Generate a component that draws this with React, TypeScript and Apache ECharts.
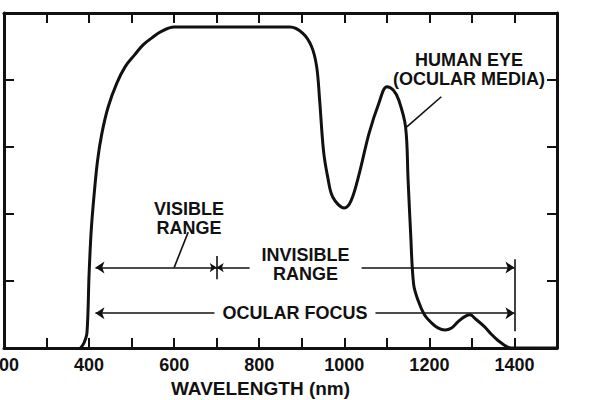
import React, { useEffect, useRef } from "react";
import * as echarts from "echarts";

// Wavelength (nm) and relative transmission (%) of the human eye (ocular media)
const wavelengths = [380, 388, 395, 400, 405, 412, 420, 430, 445, 465, 485, 507, 527, 547, 570, 600, 700, 800, 872, 902, 923, 935, 942, 951, 961, 973, 1000, 1016, 1035, 1058, 1081, 1100, 1115, 1128, 1144, 1150, 1156, 1163, 1174, 1188, 1205, 1220, 1237, 1252, 1267, 1282, 1295, 1310, 1330, 1345, 1360, 1384, 1400, 1500];
const transmission = [0, 1.5, 4.5, 22, 35, 46, 56, 64, 72, 79, 84, 87.5, 90.5, 92.5, 94.5, 95.8, 95.8, 95.8, 95.8, 94, 90, 84, 74, 59, 51, 45, 41.8, 44, 52, 64, 73, 78, 77, 74, 66, 50, 34, 19, 14, 10, 7.5, 6, 5.4, 6, 7.8, 9.3, 9.9, 8.5, 6.3, 4.2, 2.4, 0.3, 0, 0];

const xMin = 200;
const xMax = 1500;
const xInterval = 100;
const yMin = 0;
const yMax = 100;
const yInterval = 20;

// Annotation ranges (nm) and their heights (%)
const visibleRange = [415, 700];
const invisibleRange = [700, 1400];
const ocularFocus = [415, 1400];
const rangeLineY = 24;
const focusLineY = 10.4;

// Annotation labels: [text, x (nm), y (%)]
const annotationLabels: [string, number, number][] = [
  ["VISIBLE\nRANGE", 635, 38.8],
  ["INVISIBLE\nRANGE", 909, 24.8],
  ["OCULAR FOCUS", 884, 10.4],
  ["HUMAN EYE\n(OCULAR MEDIA)", 1293, 83],
];

const INK = "#111";
const FONT = "'Liberation Sans', Arial, sans-serif";

export default function App() {
  const ref = useRef<HTMLDivElement>(null);
  useEffect(() => {
    if (!ref.current) return;
    const chart = echarts.init(ref.current, null, { renderer: "svg" });
    const axisCommon = {
      type: "value" as const,
      axisLine: { show: true, onZero: false, lineStyle: { color: INK, width: 3 } },
      axisTick: { show: true, inside: true, length: 10, lineStyle: { color: INK, width: 2 } },
      splitLine: { show: false },
    };
    const pts = wavelengths.map((w, i) => [w, transmission[i]]);
    const arrow = 9;
    chart.setOption({
      animation: false,
      backgroundColor: "#fff",
      grid: { left: 4, right: 43, top: 13, bottom: 52, outerBoundsMode: "none" },
      xAxis: [
        {
          ...axisCommon,
          position: "bottom",
          min: xMin,
          max: xMax,
          interval: xInterval,
          axisLabel: {
            show: true,
            showMinLabel: true,
            showMaxLabel: true,
            margin: 8,
            color: INK,
            fontFamily: FONT,
            fontWeight: "bold",
            fontSize: 18,
            formatter: (v: number) => (v % 200 === 0 && v < xMax ? String(v) : ""),
          },
          name: "WAVELENGTH (nm)",
          nameLocation: "middle",
          nameGap: 28,
          nameTextStyle: {
            color: INK,
            fontFamily: FONT,
            fontWeight: "bold",
            fontSize: 19,
            padding: [0, 40, 0, 0],
          },
        },
        {
          ...axisCommon,
          position: "top",
          min: xMin,
          max: xMax,
          interval: xInterval,
          axisLabel: { show: false },
        },
      ],
      yAxis: [
        { ...axisCommon, position: "left", min: yMin, max: yMax, interval: yInterval, axisLabel: { show: false } },
        { ...axisCommon, position: "right", min: yMin, max: yMax, interval: yInterval, axisLabel: { show: false } },
      ],
      series: [
        {
          type: "line",
          data: pts,
          showSymbol: false,
          smooth: 0.35,
          lineStyle: { color: INK, width: 3, join: "round", cap: "round" },
          z: 3,
          markLine: {
            silent: true,
            symbol: "none",
            symbolSize: arrow,
            lineStyle: { color: INK, width: 1.6, type: "solid" },
            label: { show: false },
            emphasis: { disabled: true },
            data: [
              [
                { coord: [visibleRange[0], rangeLineY], symbol: "arrow", symbolSize: arrow },
                { coord: [visibleRange[1], rangeLineY], symbol: "arrow", symbolSize: 7 },
              ],
              [
                { coord: [invisibleRange[0], rangeLineY], symbol: "arrow", symbolSize: 7 },
                { coord: [invisibleRange[1], rangeLineY], symbol: "arrow", symbolSize: arrow },
              ],
              [
                { coord: [ocularFocus[0], focusLineY], symbol: "arrow", symbolSize: arrow },
                { coord: [ocularFocus[1], focusLineY], symbol: "arrow", symbolSize: arrow },
              ],
              [
                { coord: [1400, 26.5], symbol: "none" },
                { coord: [1400, 5], symbol: "none" },
              ],
              [
                { coord: [700, 27.5], symbol: "none" },
                { coord: [700, 20.5], symbol: "none" },
              ],
              [
                { coord: [600, 24], symbol: "none" },
                { coord: [633, 34.6], symbol: "none" },
              ],
              [
                { coord: [1147, 66], symbol: "none" },
                { coord: [1228, 75], symbol: "none" },
              ],
            ],
          },
          markPoint: {
            silent: true,
            symbol: "rect",
            symbolSize: 1,
            itemStyle: { color: "rgba(0,0,0,0)" },
            data: annotationLabels.map(([text, x, y]) => ({
              coord: [x, y],
              label: {
                show: true,
                position: "inside",
                formatter: text,
                color: INK,
                fontFamily: FONT,
                fontWeight: "bold",
                fontSize: 18,
                lineHeight: 19,
                align: "center",
                backgroundColor: text.startsWith("OCULAR") ? "#fff" : text.startsWith("INVISIBLE") ? "#fff" : "transparent",
                padding: text.startsWith("OCULAR") ? [1, 8] : text.startsWith("INVISIBLE") ? [0, 12] : 0,
              },
            })),
          },
        },
      ],
    });
    return () => chart.dispose();
  }, []);
  return (
    <div
      ref={ref}
      style={{ position: "fixed", left: 0, top: 0, width: 600, height: 400, background: "#fff" }}
    />
  );
}
